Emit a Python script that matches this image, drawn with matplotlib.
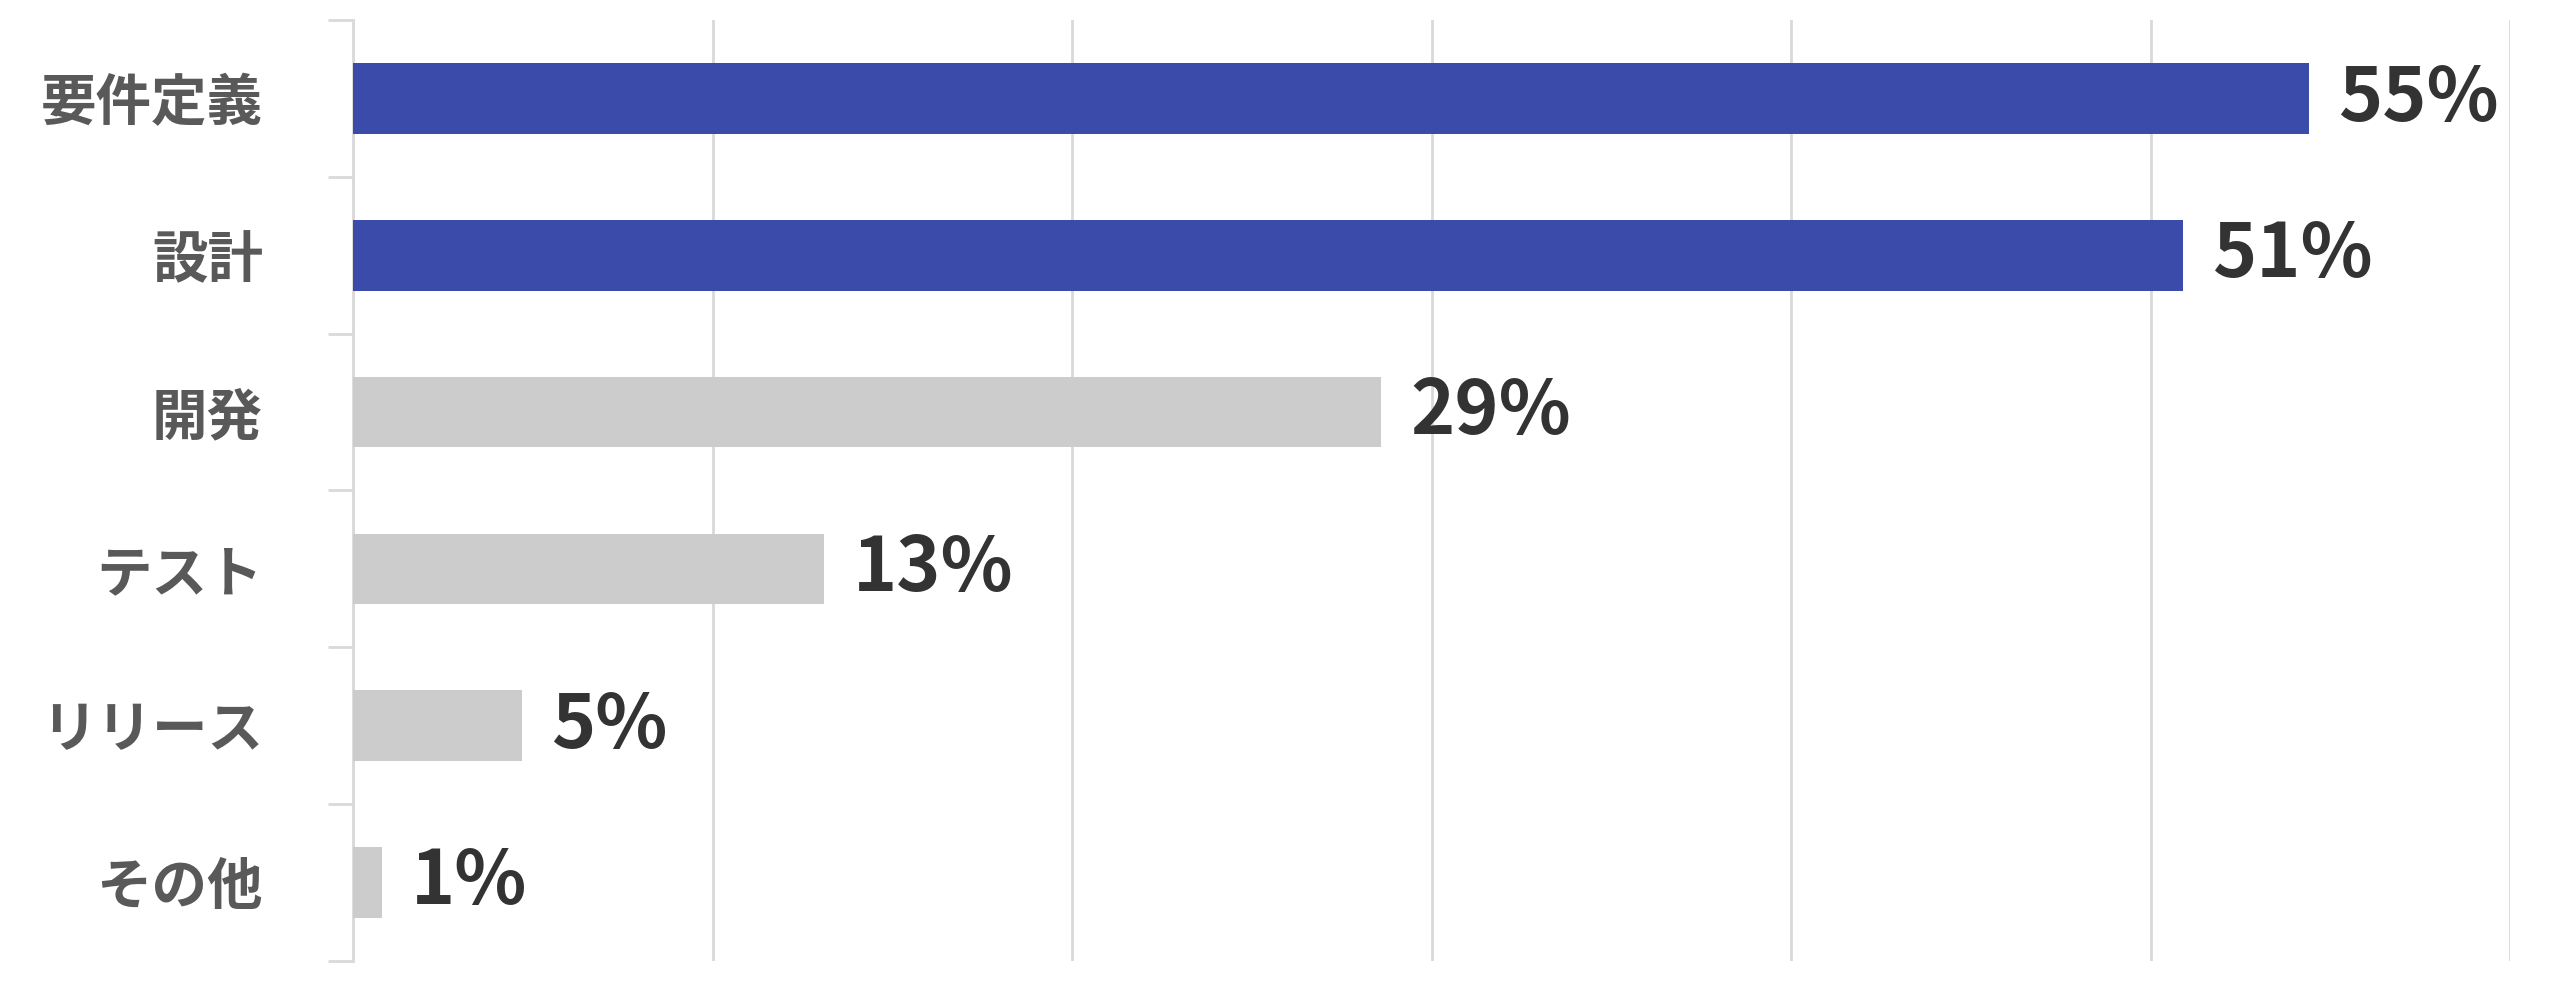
import numpy as np
import matplotlib.pyplot as plt

plt.rcParams['font.family'] = ['Noto Sans CJK JP', 'DejaVu Sans']

categories = ["要件定義", "設計", "開発", "テスト", "リリース", "その他"]
values = [54.4, 50.9, 28.6, 13.1, 4.7, 0.8]
labels = ["55%", "51%", "29%", "13%", "5%", "1%"]
highlight = [True, True, False, False, False, False]

fig = plt.figure(figsize=(25.59, 10.07), dpi=100)
ax = fig.add_axes([0.138, 0.046, 0.843, 0.934])

y = np.arange(len(categories))
colors = ["#3A4BAA" if h else "#CCCCCC" for h in highlight]
ax.barh(y, values, height=0.45, color=colors, zorder=3)

for yi, v, lab in zip(y, values, labels):
    ax.text(v + 0.8, yi, lab, va="center", ha="left", fontsize=54,
            fontweight="bold", color="#333333", zorder=4)

ax.set_xlim(0, 60)
ax.set_ylim(len(categories) - 0.5, -0.5)
ax.set_xticks(np.arange(0, 61, 10))
ax.xaxis.grid(True, color="#D9D9D9", linewidth=2, zorder=0)
ax.tick_params(axis="x", length=0, labelbottom=False)

ax.set_yticks(y)
ax.set_yticklabels(categories, fontsize=40, fontweight="bold", color="#595959")
ax.tick_params(axis="y", which="major", length=0, pad=65)
ax.set_yticks(np.arange(-0.5, len(categories)), minor=True)
ax.tick_params(axis="y", which="minor", length=18, width=2, color="#D9D9D9")

for s in ["top", "right", "bottom"]:
    ax.spines[s].set_visible(False)
ax.spines["left"].set_color("#D9D9D9")
ax.spines["left"].set_linewidth(2)

fig.savefig("out.png", dpi=100)
